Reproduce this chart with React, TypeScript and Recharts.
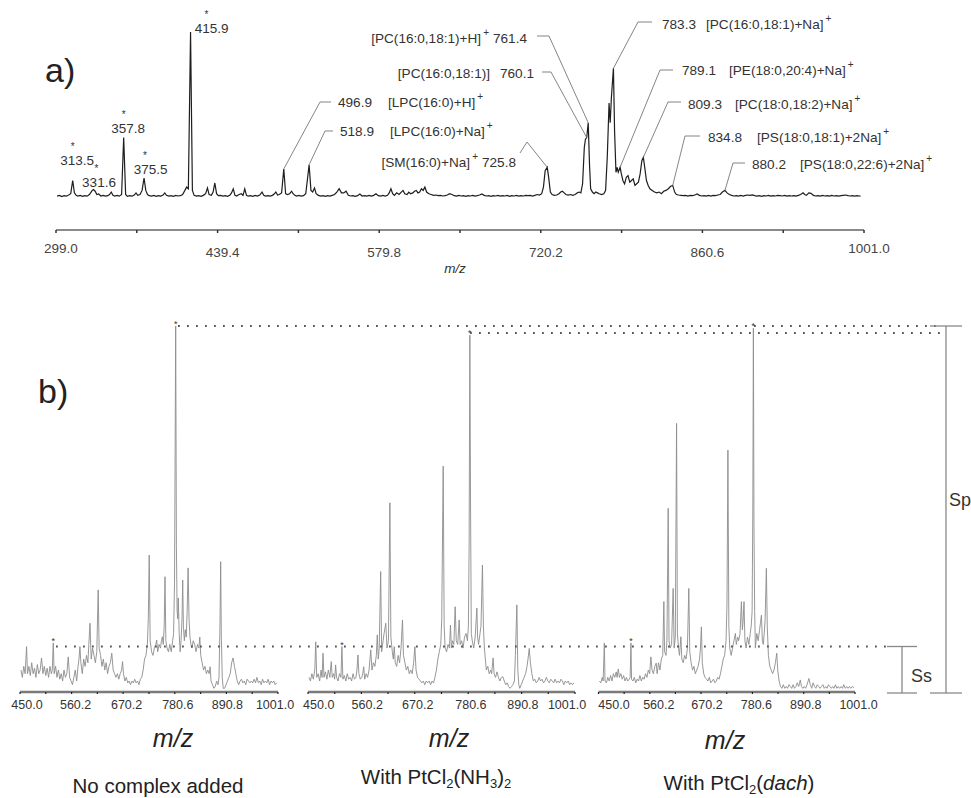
import React from "react";
import { LineChart, Line, XAxis, YAxis, ReferenceDot } from "recharts";

const FONT = '"Liberation Sans", Arial, Helvetica, sans-serif';

// ---------- panel a: full spectrum (m/z, relative intensity) ----------
const spectrumA: number[][] = [
  [300, 0.5], [302, 1], [304, 0.3], [306, 0.8], [308, 0.5], [310, 1.2], [311.8, 2], [313.5, 10], [315, 2.5], [316.5, 1],
  [318, 0.6], [320, 1], [322, 0.4], [324, 0.8], [326, 0.5], [328, 1.5], [329.5, 3], [330.5, 4], [331.6, 4.5], [333, 3.5],
  [334.5, 1.5], [336, 1.8], [338, 0.6], [340, 1], [342, 0.5], [344, 0.8], [345.5, 1.5], [347, 3], [348.5, 1], [350, 0.6],
  [352, 1], [354, 0.5], [356, 1.5], [357.8, 36], [359.5, 1.5], [361, 0.4], [363, 0.8], [365, 0.5], [367, 1.2], [368.5, 2.5],
  [370, 1], [372, 1.5], [373.8, 4], [375.5, 11.5], [377, 4], [378.5, 1.5], [380, 0.8], [382, 0.5], [384, 1], [386, 0.4],
  [388, 0.8], [390, 0.6], [392, 1.2], [393.5, 2.5], [395, 1], [397, 0.5], [399, 0.8], [401, 0.4], [403, 1], [405, 0.6],
  [407, 0.8], [409, 1.5], [411, 4], [412.5, 6], [414, 5], [415.9, 100], [417.5, 4], [419, 1], [421, 0.5], [423, 0.8],
  [425, 0.4], [427, 1], [429, 2], [430.6, 5.5], [432, 1.5], [434, 1], [435.5, 3], [437, 8.5], [438.5, 2], [440, 0.8],
  [442, 1], [444, 0.5], [446, 0.8], [448, 0.4], [450, 1], [451.5, 2.5], [453, 5], [454.5, 1], [456, 0.6], [458, 1.5],
  [460, 2], [461.5, 1], [463, 5], [464.5, 1], [466, 0.5], [468, 0.8], [470, 0.4], [472, 1], [474, 0.6], [476, 1.2],
  [478, 3], [479.5, 1], [481, 0.6], [483, 0.8], [485, 0.5], [487, 1], [488.5, 1.8], [490, 3], [491.5, 1.2], [493, 1.5],
  [495, 2.5], [496.9, 17], [498.5, 2], [500, 1.5], [502, 2], [503.7, 3.5], [505, 2], [506.5, 1], [508, 0.6], [510, 1],
  [512, 0.5], [514, 0.8], [516, 2], [518.9, 19.5], [520.5, 4], [522, 3], [523.6, 5.5], [525, 2], [527, 1], [529, 0.5],
  [531, 0.8], [533, 0.4], [535, 0.8], [537, 0.5], [539, 1], [541, 1.5], [543, 3], [545, 5], [547, 2.5], [549, 2.5],
  [551, 3.5], [553, 1], [555, 0.6], [557, 0.8], [559, 0.4], [561, 0.8], [563, 1.8], [565, 0.6], [567, 0.8], [569, 0.5],
  [571, 1], [573, 0.6], [575, 1], [577, 2], [579, 0.8], [581, 0.5], [583, 1], [585, 0.6], [587, 1], [588.5, 2.5],
  [590, 5], [591.5, 2], [593, 1], [595, 2.5], [597, 1.5], [599, 3], [600.5, 4], [602, 2], [604, 1.5], [605.5, 3],
  [607, 2], [609, 2.5], [610.5, 3.5], [612, 4], [613.5, 2.5], [615, 3], [616.5, 5], [618, 4], [619.5, 6], [621, 3],
  [623, 2], [625, 1.5], [627, 1], [629, 1.2], [631, 0.8], [633, 1], [635, 0.6], [637, 0.8], [639, 1.2], [641, 2],
  [643, 1.5], [645, 0.8], [647, 0.5], [649, 1], [651, 0.6], [653, 0.8], [655, 0.4], [657, 0.8], [659, 0.6], [661, 1],
  [663, 0.5], [665, 0.8], [667, 1.2], [669, 1.8], [671, 1], [673, 0.6], [675, 0.8], [677, 0.4], [679, 0.8], [681, 0.6],
  [683, 1], [685, 0.5], [687, 0.8], [689, 0.6], [691, 1], [693, 0.4], [695, 0.8], [697, 0.6], [699, 1], [701, 0.5],
  [703, 0.8], [705, 0.6], [707, 1], [709, 0.8], [711, 1], [713, 0.6], [715, 1], [717, 1.5], [719, 1.2], [721, 2],
  [722.5, 6], [724, 16], [725.8, 18], [727, 12], [728.5, 3], [730, 1.5], [732, 1], [734, 1.2], [736, 2], [737.5, 3],
  [739, 3.5], [740.5, 2.5], [742, 1.5], [744, 1.2], [746, 1.5], [748, 1], [750, 1.5], [752, 2.5], [753.5, 3], [755, 2.5],
  [756.5, 8], [758, 30], [759, 35], [760.1, 36], [761.4, 45], [762.5, 20], [763.5, 5], [765, 3], [766.5, 2], [768, 3],
  [769.5, 2.5], [771, 2], [773, 1.5], [775, 2], [776.5, 4], [778, 25], [779.5, 57], [780.5, 45], [781.5, 60], [783.3, 78],
  [784.3, 40], [785.5, 15], [786.5, 18], [787.5, 15], [789.1, 18], [790.2, 14], [791.5, 10], [793, 8], [794.5, 12], [796, 13],
  [797.5, 9], [799, 10], [800.5, 11], [802, 7], [803.5, 8], [805, 9], [806.5, 14], [808, 22], [809.3, 24], [810.5, 18],
  [812, 10], [813.5, 7], [815, 5], [817, 4], [819, 3], [821, 2.5], [823, 3], [825, 2], [827, 3.5], [829, 4],
  [831, 5], [833, 6.5], [834.8, 7], [836.5, 3], [838, 1.5], [840, 1.2], [842, 1], [844, 0.8], [846, 1], [848, 0.6],
  [850, 1], [852, 0.8], [854, 1.2], [856, 1.8], [858, 1], [860, 0.6], [862, 0.8], [864, 0.5], [866, 1], [868, 0.6],
  [870, 1], [872, 0.8], [874, 1.2], [876, 1.5], [878, 3], [880.2, 4], [882, 2.5], [884, 1.5], [886, 1], [888, 0.6],
  [890, 0.8], [892, 0.5], [894, 1], [896, 0.6], [898, 1], [900, 1.2], [902, 1], [904, 1.3], [906, 0.8], [908, 0.5],
  [910, 0.8], [912, 0.4], [914, 0.8], [916, 0.6], [918, 1], [920, 0.5], [922, 0.8], [924, 0.6], [926, 1], [928, 0.8],
  [930, 0.6], [932, 1], [934, 0.5], [936, 0.8], [938, 0.6], [940, 0.8], [942, 0.5], [944, 1], [946, 1.5], [948, 2.5],
  [949.5, 1.5], [951, 1], [953, 2.5], [955, 2.2], [957, 1], [959, 0.6], [961, 0.8], [963, 0.5], [965, 1], [967, 0.6],
  [969, 0.8], [971, 0.5], [973, 1], [975, 0.6], [977, 0.8], [979, 0.5], [981, 0.8], [983, 1], [985, 1.2], [987, 0.8],
  [989, 0.6], [991, 0.8], [993, 0.5], [995, 0.8], [997, 0.6], [998, 0.5],
];

const ticksA = [299.0, 369.2, 439.4, 509.6, 579.8, 650.0, 720.2, 790.4, 860.6, 930.8, 1001.0];
const majorTicksA = [299.0, 439.4, 579.8, 720.2, 860.6, 1001.0];

// peaks marked with * and their m/z
const starredPeaksA = [313.5, 331.6, 357.8, 375.5, 415.9];

// assigned peaks
const assignedPeaksA = [
  { mz: 761.4, ion: "[PC(16:0,18:1)+H]", plus: true },
  { mz: 760.1, ion: "[PC(16:0,18:1)]", plus: false },
  { mz: 725.8, ion: "[SM(16:0)+Na]", plus: true },
  { mz: 783.3, ion: "[PC(16:0,18:1)+Na]", plus: true },
  { mz: 789.1, ion: "[PE(18:0,20:4)+Na]", plus: true },
  { mz: 809.3, ion: "[PC(18:0,18:2)+Na]", plus: true },
  { mz: 834.8, ion: "[PS(18:0,18:1)+2Na]", plus: true },
  { mz: 880.2, ion: "[PS(18:0,22:6)+2Na]", plus: true },
  { mz: 496.9, ion: "[LPC(16:0)+H]", plus: true },
  { mz: 518.9, ion: "[LPC(16:0)+Na]", plus: true },
];

// ---------- panel b: three spectra ----------
const spectrumNone: number[][] = [
  [452, 6], [455, 4], [458, 7], [461, 5], [464, 12.4], [466, 5], [469, 7], [472, 4.5], [475, 8], [478, 5],
  [481, 6.5], [484, 4], [487, 7.5], [490, 5], [493, 6], [496, 9.3], [499, 5], [502, 7], [505, 4.5], [508, 6.5],
  [511, 4], [514, 7], [517, 5], [519, 6], [521, 13.4], [523, 5], [526, 7], [529, 4], [532, 6], [535, 3.5],
  [538, 5], [541, 3], [544, 6], [547, 4], [550, 5], [553, 9.6], [556, 4], [559, 3], [562, 2], [565, 4],
  [568, 6], [571, 3], [574, 7], [576, 9], [578, 12.4], [580, 8], [583, 5], [586, 9], [589, 7], [592, 10],
  [595, 8], [597, 13], [599.5, 18.8], [602, 9], [605, 12], [608, 10], [611, 8], [614, 11], [617, 27.9], [619, 12],
  [622, 10], [625, 7], [628, 9], [631, 6], [634, 8], [637, 5], [640, 7], [643, 8], [646, 10.6], [649, 6],
  [652, 5], [655, 4], [658, 5], [661, 3.5], [664, 5], [667, 6], [669, 8.3], [671, 5], [674, 3], [677, 4],
  [680, 2.5], [683, 3], [686, 2], [689, 3], [692, 2.5], [695, 3.5], [698, 2.5], [701, 3], [704, 2], [707, 3.5],
  [710, 4], [713, 6], [716, 9], [719, 10], [722, 13], [724, 20], [726, 37.4], [728, 14], [731, 11], [734, 10],
  [737, 12], [740, 13], [742, 14.2], [744, 11], [747, 13], [750, 12], [752, 14], [754, 15.1], [756, 13], [758, 18],
  [759.7, 31.5], [761.5, 14], [764, 12], [767, 11], [770, 13], [773, 11], [776, 14], [778, 16], [780, 30], [782.5, 100],
  [784, 40], [785.5, 22], [787, 20], [788, 25.7], [790, 16], [792, 11], [794, 14], [796, 20], [797.5, 30.6], [799, 18],
  [801, 14], [803, 17], [805, 15], [807, 22], [809, 33.9], [811, 20], [813, 15], [815, 13], [817, 12], [820, 14],
  [823, 13], [826, 11], [829, 13], [832, 12], [834, 15], [836, 10], [839, 8], [842, 6], [845, 7], [848, 5],
  [851, 6], [854, 5], [856, 6.9], [858, 3], [861, 2], [864, 1], [867, 1.5], [870, 3], [873, 2], [875, 4],
  [877, 18], [878.6, 35.6], [880, 15], [882, 4], [884, 1], [887, 1], [890, 2], [893, 3], [896, 4], [899, 5],
  [902, 8], [905, 9.3], [908, 7], [911, 5], [914, 3], [917, 2], [920, 3], [923, 3.5], [926, 2.5], [929, 3],
  [932, 2], [935, 3.5], [938, 3], [941, 2.5], [944, 3], [947, 2.5], [950, 3.5], [953, 2.5], [956, 4], [959, 2.5],
  [962, 3], [965, 2], [968, 3.5], [971, 2.5], [974, 3], [977, 2.5], [980, 3.5], [983, 2], [986, 3], [989, 2.5],
  [992, 3], [995, 2], [998, 2.5],
];

const spectrumNH3: number[][] = [
  [452, 4], [455, 3], [458, 5], [461, 3.5], [464, 6], [466, 13.7], [468, 4], [471, 5], [474, 3], [477, 6],
  [479, 4], [481, 10.6], [483, 4], [486, 5.5], [489, 3.5], [492, 6], [495, 4], [498, 8.3], [500, 4], [503, 5],
  [505, 3.5], [507, 7.4], [509, 4], [512, 3], [515, 5], [518, 4], [520, 12.4], [522, 3.5], [525, 4.5], [528, 3],
  [531, 5], [534, 3.5], [537, 4], [540, 3], [543, 5], [546, 3.5], [549, 4], [551, 6], [553, 10.1], [555, 5],
  [558, 3.5], [561, 4], [563, 5], [565, 6.9], [567, 3.5], [570, 5], [573, 4], [576, 6], [579.5, 11.5], [582, 6],
  [585, 8], [588, 7], [591, 10], [593, 15.6], [595, 9], [597, 12], [600, 32.9], [602, 11], [605, 14], [607, 16],
  [610.5, 18.8], [613, 12], [616, 14], [619, 51.7], [621, 15], [624, 11], [626, 9], [628, 12.4], [630, 8], [633, 7],
  [636, 10], [639, 8], [642, 12], [645, 19.7], [647, 10], [650, 8], [653, 6], [656, 7], [659, 5], [662, 6],
  [665, 5], [668, 8], [670.5, 12.4], [673, 6], [676, 4], [679, 3.5], [682, 3], [685, 2.5], [688, 3], [691, 2],
  [694, 3], [697, 2.5], [700, 3], [703, 2], [706, 3], [709, 2.5], [712, 4], [715, 6], [718, 9], [721, 11],
  [724, 13], [726, 20], [729, 61.7], [731, 18], [733, 12], [736, 11], [739, 13], [742, 12], [744, 18.3], [746, 12],
  [748, 14], [751, 13], [753.7, 23.3], [756, 14], [759, 13], [762, 19.7], [764, 13], [767, 14], [770, 12], [773, 15],
  [776, 16], [779, 14], [781, 18], [782.5, 40], [784, 97.5], [785.5, 50], [787, 16], [789, 14], [792, 12], [795, 15],
  [798.5, 22.9], [800, 15], [802, 13], [805, 16], [807, 18], [810, 34.7], [812, 18], [814, 12], [816, 9], [818, 6],
  [821, 7], [824, 5], [827, 6], [829, 5], [832, 9.3], [834, 5], [837, 4], [840, 5.5], [843, 4], [846, 3],
  [849, 4], [852, 4.2], [855, 3], [858, 2], [861, 2.5], [864, 1.5], [867, 1], [870, 1.5], [873, 2], [876, 3],
  [878, 10], [881, 23.8], [883, 6], [885, 2], [887, 1], [890, 2], [893, 3], [896, 4], [899, 5], [902, 7],
  [904, 9], [906.6, 11.9], [909, 8], [912, 5], [915, 3], [918, 3.5], [921, 2.5], [924, 3], [927, 4], [930, 3],
  [933, 3.5], [936, 2.5], [939, 3], [942, 4], [945, 3], [948, 2.5], [951, 3.5], [954, 3], [957, 2.5], [960, 3.5],
  [963, 2.5], [966, 3], [969, 2.5], [972, 3.5], [975, 3], [978, 2], [981, 3], [984, 2.5], [987, 3], [990, 2],
  [993, 2.5], [996, 2], [999, 2.5],
];

const spectrumDach: number[][] = [
  [452, 3], [455, 2.5], [458, 4], [460, 3], [462.5, 13.4], [464, 3], [467, 2.5], [470, 4], [473, 3], [476, 4.5],
  [479, 3], [482, 5], [485, 4], [488, 5.5], [490, 4], [492.5, 6.3], [495, 4], [498, 5], [501, 3.5], [504, 4.5],
  [507, 3], [510, 4], [513, 3], [516, 3.5], [518, 4], [519.7, 13.4], [521, 3.5], [524, 3], [527, 4], [530, 2.5],
  [533, 3.5], [536, 3], [539, 4.5], [542, 3], [545, 4], [548, 3.5], [551, 5], [554, 4], [557, 6], [560, 5],
  [562.5, 9.6], [565, 6], [568, 5], [571, 7], [574, 7.9], [576, 5], [579, 8], [582, 6], [585, 9], [588, 10],
  [590.4, 24.7], [592, 11], [595, 10], [597, 14], [599.7, 50.2], [601.5, 14], [604, 12], [607, 13], [610.4, 28.3], [612.5, 12],
  [615, 15], [617.7, 73.4], [619.5, 16], [622, 12], [624, 10], [627, 15.1], [629, 9], [632, 8], [635, 10], [638, 9],
  [641, 12], [644, 28.3], [646, 11], [649, 8], [652, 6], [655, 7], [658, 5], [661, 6], [664, 7], [667, 9],
  [669, 12], [671, 17.8], [673, 8], [676, 5], [679, 4], [682, 3.5], [685, 3], [688, 4], [691, 2.5], [694, 3],
  [697, 3.5], [700, 2.5], [703, 3], [706, 4], [709, 3.5], [712, 5], [715, 7], [718, 9], [721, 10], [724, 14],
  [726, 24], [728, 66.1], [730, 18], [732, 12], [735, 10], [738, 12], [741, 14], [744, 16], [746, 13], [749, 15],
  [751, 14], [754, 16], [757, 24.7], [759, 17], [760.5, 19], [762.6, 24.7], [764.5, 14], [767, 12], [770, 15], [773, 13],
  [776, 16], [778, 18], [780, 22], [781.5, 50], [782.7, 99.4], [784, 45], [785.5, 22], [787, 12], [790, 16], [793, 14],
  [796, 17], [798, 19], [800, 21], [802, 14], [804, 13], [806, 16], [808, 20], [810.6, 33.8], [812.5, 18], [815, 10],
  [818, 7], [821, 6], [824, 5], [827, 6], [830, 8], [833, 10.6], [835, 6], [838, 3], [841, 1.5], [844, 1],
  [847, 2], [850, 1], [853, 1.5], [856, 1], [859, 2], [862, 1.5], [865, 1], [868, 2], [871, 1], [874, 1.5],
  [877, 2.5], [880, 1.5], [883.5, 3.3], [886, 1.5], [889, 1], [892, 1.5], [895, 1], [898, 2], [902, 3.7], [905, 2],
  [908, 1], [911, 2.5], [914, 1.5], [917, 1], [920, 2], [923, 1.5], [926, 1], [929, 1.5], [932, 2], [935, 1],
  [938, 1.5], [941, 1], [944, 2], [947, 1.5], [950, 1], [953, 1.5], [956, 1], [959, 2], [962, 1], [965, 1.5],
  [968, 1], [971, 1.5], [974, 1], [977, 2], [980, 1], [983, 1.5], [986, 1], [989, 1.5], [992, 1], [995, 1.5],
  [999, 1.2],
];

const ticksB = [450.0, 505.1, 560.2, 615.2, 670.2, 725.4, 780.6, 835.7, 890.8, 945.9, 1001.0];
const tickLabelsB = ["450.0", "560.2", "670.2", "780.6", "890.8", "1001.0"];

const starsNone = [521, 782.5];
const starsNH3 = [520, 784];
const starsDach = [519.7, 782.7];

// ---------- layout (pixels) ----------
const simpleLayoutA = [
  { dx: 4.5, dy: -15.3, sx: 0, sy: -30.5 },
  { dx: 5.5, dy: -2.3, sx: 3, sy: -17.5 },
  { dx: 4.5, dy: -4.3, sx: 0, sy: -19.5 },
  { dx: 6.5, dy: -4.3, sx: 1, sy: -19.5 },
  { dx: 21, dy: 0.7, sx: 16, sy: -14.5 },
];

const leaderLayoutA = [
  { numX: 493, ionX: 489, ionAnchor: "end", y: 43, line: [[537, 36], [549, 36]] },
  { numX: 500, ionX: 490, ionAnchor: "end", y: 77.5, line: [[542, 72], [551, 72]] },
  { numX: 482, ionX: 478, ionAnchor: "end", y: 166.5, line: [[520, 153], [527, 142]] },
  { numX: 662, ionX: 706, ionAnchor: "start", y: 28.5, line: [[652, 22], [638, 22]] },
  { numX: 682, ionX: 729, ionAnchor: "start", y: 74.5, line: [[673, 70], [660, 70]] },
  { numX: 688, ionX: 735, ionAnchor: "start", y: 108.5, line: [[681, 102], [668, 102]] },
  { numX: 708, ionX: 757, ionAnchor: "start", y: 141.5, line: [[700, 136], [685, 136]] },
  { numX: 752, ionX: 800, ionAnchor: "start", y: 168.5, line: [[745, 163], [733, 163]] },
  { numX: 338, ionX: 388, ionAnchor: "start", y: 106.5, line: [[331, 102], [320, 102]] },
  { numX: 340, ionX: 390, ionAnchor: "start", y: 135.5, line: [[333, 131], [325, 131]] },
];

const toPoints = (rows: number[][]) => rows.map(([mz, v]) => ({ mz, v }));
const peakTop = (data: { mz: number; v: number }[], mz: number) =>
  data.find((d) => d.mz === mz)?.v ?? 0;

const dataA = toPoints(spectrumA);

const TickA = (props: any) => {
  const { x, y, payload } = props;
  const i = majorTicksA.indexOf(payload.value);
  if (i < 0) return <g />;
  const edge = i === 0 || i === majorTicksA.length - 1;
  return (
    <text x={x + 5} y={y} dy={edge ? 17.5 : 21.5} textAnchor="middle" fontSize={13.5} fill="#444" fontFamily={FONT}>
      {payload.value.toFixed(1)}
    </text>
  );
};

function PanelA() {
  return (
    <div style={{ position: "absolute", left: 0, top: 0 }}>
      <LineChart width={971} height={280} data={dataA} margin={{ top: 32, right: 107, bottom: 20, left: 56 }}>
        <XAxis
          dataKey="mz"
          type="number"
          domain={[299, 1001]}
          ticks={ticksA}
          interval={0}
          height={30}
          axisLine={{ stroke: "#8a8a8a", strokeWidth: 2 }}
          tickLine={{ stroke: "#333", strokeWidth: 1.5 }}
          tickSize={3}
          tick={<TickA />}
        />
        <YAxis hide domain={[0, 100]} padding={{ top: 0, bottom: 33 }} />
        <Line dataKey="v" type="linear" stroke="#1e1e1e" strokeWidth={1.2} dot={false} isAnimationActive={false} />
        {starredPeaksA.map((mz, i) => {
          const lay = simpleLayoutA[i];
          return (
            <ReferenceDot
              key={"s" + mz}
              x={mz}
              y={peakTop(dataA, mz)}
              r={0}
              ifOverflow="visible"
              shape={(p: any) => (
                <g fontFamily={FONT} fill="#333">
                  <text x={p.cx + lay.sx} y={p.cy + lay.sy} textAnchor="middle" fontSize={10}>
                    *
                  </text>
                  <text x={p.cx + lay.dx} y={p.cy + lay.dy} textAnchor="middle" fontSize={13.5}>
                    {mz.toFixed(1)}
                  </text>
                </g>
              )}
            />
          );
        })}
        {assignedPeaksA.map((pk, i) => {
          const lay = leaderLayoutA[i];
          return (
            <ReferenceDot
              key={"l" + pk.mz}
              x={pk.mz}
              y={peakTop(dataA, pk.mz)}
              r={0}
              ifOverflow="visible"
              shape={(p: any) => (
                <g fontFamily={FONT} fill="#333">
                  <polyline
                    points={[...lay.line, [p.cx, p.cy]].map((q) => q.join(",")).join(" ")}
                    fill="none"
                    stroke="#777"
                    strokeWidth={0.9}
                  />
                  <text x={lay.numX} y={lay.y} fontSize={13.6}>
                    {pk.mz.toFixed(1)}
                  </text>
                  <text x={lay.ionX} y={lay.y} fontSize={13.6} textAnchor={lay.ionAnchor as any}>
                    {pk.ion}
                    {pk.plus && (
                      <tspan dx={2} dy={-7} fontSize={10}>
                        +
                      </tspan>
                    )}
                  </text>
                </g>
              )}
            />
          );
        })}
      </LineChart>
    </div>
  );
}

const makeTickB = (nudge: number[]) => (props: any) => {
  const { x, y, payload } = props;
  const i = ticksB.indexOf(payload.value);
  if (i < 0 || i % 2 !== 0) return <g />;
  const k = i / 2;
  return (
    <text x={x + nudge[k]} y={y} dy={12.5} textAnchor="middle" fontSize={12.5} fill="#333" fontFamily={FONT}>
      {tickLabelsB[k]}
    </text>
  );
};

function SubSpectrum(props: {
  rows: number[][];
  stars: number[];
  left: number;
  marginLeft: number;
  marginRight: number;
  nudge: number[];
}) {
  const data = toPoints(props.rows);
  const Tick = makeTickB(props.nudge);
  return (
    <div style={{ position: "absolute", left: props.left, top: 300 }}>
      <LineChart
        width={320}
        height={430}
        data={data}
        margin={{ top: 26, right: props.marginRight, bottom: 8, left: props.marginLeft }}
      >
        <XAxis
          dataKey="mz"
          type="number"
          domain={[450, 1001]}
          ticks={ticksB}
          interval={0}
          height={30}
          axisLine={{ stroke: "#7a7a7a", strokeWidth: 2.5 }}
          tickLine={{ stroke: "#222", strokeWidth: 1.2 }}
          tickSize={2}
          tick={<Tick />}
        />
        <YAxis hide domain={[0, 100]} />
        <Line dataKey="v" type="linear" stroke="#8c8c8c" strokeWidth={0.9} dot={false} isAnimationActive={false} />
        {props.stars.map((mz) => (
          <ReferenceDot
            key={mz}
            x={mz}
            y={peakTop(data, mz)}
            r={0}
            ifOverflow="visible"
            shape={(p: any) => (
              <text x={p.cx} y={p.cy} dy={1} textAnchor="middle" fontSize={9} fill="#333" fontFamily={FONT}>
                *
              </text>
            )}
          />
        ))}
      </LineChart>
    </div>
  );
}

function Overlay() {
  const dot = { stroke: "#555", strokeWidth: 1.8, strokeDasharray: "1.8 7.2", fill: "none" };
  const solid = { stroke: "#888", strokeWidth: 1.3 };
  return (
    <svg
      width={971}
      height={798}
      style={{ position: "absolute", left: 0, top: 0, pointerEvents: "none" }}
      fontFamily={FONT}
    >
      <text x={45} y={82} fontSize={34} fill="#222">a)</text>
      <text x={38} y={403} fontSize={34} fill="#222">b)</text>
      <text x={455} y={273} fontSize={13.5} fontStyle="italic" textAnchor="middle" fill="#333">m/z</text>

      <line x1={178} y1={326} x2={936} y2={326} {...dot} />
      <line x1={470} y1={333} x2={944} y2={333} {...dot} />
      <line x1={56} y1={646.5} x2={887} y2={646.5} {...dot} />

      <line x1={887} y1={646.5} x2={917} y2={646.5} {...solid} />
      <line x1={902} y1={646.5} x2={902} y2={693} {...solid} />
      <line x1={887} y1={693} x2={917} y2={693} {...solid} />
      <text x={911} y={682} fontSize={18} fill="#333">Ss</text>

      <line x1={930} y1={326} x2={962} y2={326} {...solid} />
      <line x1={946} y1={326} x2={946} y2={693} {...solid} />
      <line x1={930} y1={693} x2={962} y2={693} {...solid} />
      <text x={949} y={506} fontSize={18} fill="#333">Sp</text>

      <g fontSize={25} fontStyle="italic" textAnchor="middle" fill="#222">
        <text x={173} y={747}>m/z</text>
        <text x={449} y={747}>m/z</text>
        <text x={725} y={749}>m/z</text>
      </g>
      <g fontSize={20.5} textAnchor="middle" fill="#222">
        <text x={158} y={793}>No complex added</text>
        <text x={436} y={784}>
          With PtCl
          <tspan dy={4} fontSize={13}>2</tspan>
          <tspan dy={-4}>(NH</tspan>
          <tspan dy={4} fontSize={13}>3</tspan>
          <tspan dy={-4}>)</tspan>
          <tspan dy={4} fontSize={13}>2</tspan>
        </text>
        <text x={739} y={790}>
          With PtCl
          <tspan dy={4} fontSize={13}>2</tspan>
          <tspan dy={-4}>(</tspan>
          <tspan fontStyle="italic">dach</tspan>
          <tspan>)</tspan>
        </text>
      </g>
    </svg>
  );
}

export default function App() {
  return (
    <div
      style={{
        position: "absolute",
        left: 0,
        top: 0,
        width: 971,
        height: 798,
        background: "#fff",
        overflow: "hidden",
        fontFamily: FONT,
      }}
    >
      <PanelA />
      <SubSpectrum rows={spectrumNone} stars={starsNone} left={0} marginLeft={20} marginRight={42} nudge={[7, 4, 3.5, 3, 1, -3]} />
      <SubSpectrum rows={spectrumNH3} stars={starsNH3} left={300} marginLeft={8} marginRight={45} nudge={[10.7, 5.8, 3, 2.7, 1.3, -8]} />
      <SubSpectrum rows={spectrumDach} stars={starsDach} left={590} marginLeft={8.5} marginRight={55} nudge={[15.5, 9, 6, 4, 2, 3.5]} />
      <Overlay />
    </div>
  );
}
